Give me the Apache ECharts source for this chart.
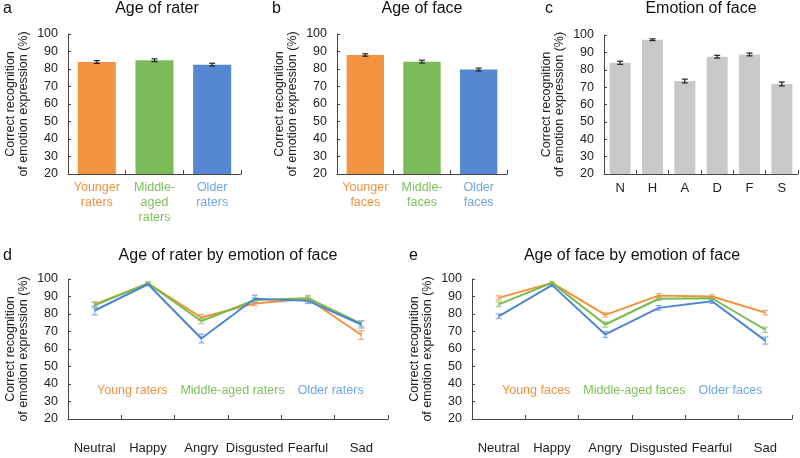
<!DOCTYPE html>
<html><head><meta charset="utf-8">
<script src="https://cdn.jsdelivr.net/npm/echarts@6/dist/echarts.min.js"></script>
<style>html,body{margin:0;padding:0;background:#fff}#c{width:800px;height:458px}</style>
</head><body><div id="c"></div>
<script>
// ---- Data ----
const raterCats = ['Younger\nraters', 'Middle-\naged\nraters', 'Older\nraters'];
const raterMeans = [84, 85, 82.5];
const raterErr = [0.8, 0.8, 0.8];

const faceCats = ['Younger\nfaces', 'Middle-\nfaces', 'Older\nfaces'];
const faceMeans = [88, 84.2, 79.7];
const faceErr = [0.7, 0.8, 0.8];

const emoShort = ['N', 'H', 'A', 'D', 'F', 'S'];
const emoMeans = [84, 97.3, 73.5, 87.5, 88.8, 71.8];
const emoErr = [0.9, 0.5, 1.1, 0.8, 0.8, 1.1];

const emoLong = ['Neutral', 'Happy', 'Angry', 'Disgusted', 'Fearful', 'Sad'];

const raterNames = ['Young raters', 'Middle-aged raters', 'Older raters'];
const youngRaters = [85.5, 97.5, 78, 86, 88.7, 68];
const youngRatersErr = [1.5, 0.8, 1.8, 1.3, 1.8, 2.5];
const middleRaters = [85, 97.5, 76, 88, 89, 74.5];
const middleRatersErr = [1.5, 0.8, 1.5, 1.3, 1.3, 1.5];
const olderRaters = [82, 97, 66, 88.7, 87.5, 74];
const olderRatersErr = [2.5, 0.8, 2.5, 2, 1.5, 2];

const faceNames = ['Young faces', 'Middle-aged faces', 'Older faces'];
const youngFaces = [89.2, 97.8, 79.5, 90.5, 90, 80.8];
const youngFacesErr = [1.2, 0.6, 1.2, 1.2, 1, 1.3];
const middleFaces = [85.5, 97.8, 74, 88.7, 89, 71];
const middleFacesErr = [1.3, 0.6, 1.5, 1, 1, 1.5];
const olderFaces = [78.7, 96.5, 68.3, 83.5, 87.3, 64.8];
const olderFacesErr = [1.3, 0.8, 1.7, 1.3, 1.2, 2];

const yTicks = { min: 20, max: 100, interval: 10 };
const yName = 'Correct recognition\nof emotion expression (%)';

// ---- Styles ----
const FONT = '"Liberation Sans", Arial, Helvetica, sans-serif';
const barColors = ['#F39442', '#7CBB5A', '#5588D0'];
const labelColors = ['#F3913E', '#7DC05A', '#6BA7E3'];
const lineColors = ['#F4913C', '#77BB4A', '#4D85D6'];
const errColors = ['#F6AA70', '#A0CF84', '#82ACE8'];
const AX = '#444';

function errData(means, errs) { return means.map((m, i) => [i, m - errs[i], m + errs[i]]); }
function errRender(capW, color) {
  return function (params, api) {
    const x = api.value(0), lo = api.value(1), hi = api.value(2);
    const p1 = api.coord([x, lo]), p2 = api.coord([x, hi]);
    const cx = p1[0];
    const style = { stroke: color, lineWidth: 1.2 };
    return { type: 'group', children: [
      { type: 'line', shape: { x1: cx, y1: p1[1], x2: cx, y2: p2[1] }, style },
      { type: 'line', shape: { x1: cx - capW / 2, y1: p1[1], x2: cx + capW / 2, y2: p1[1] }, style },
      { type: 'line', shape: { x1: cx - capW / 2, y1: p2[1], x2: cx + capW / 2, y2: p2[1] }, style }
    ] };
  };
}

const grids = [
  { left: 68, top: 34, width: 173, height: 140 },
  { left: 337, top: 34, width: 170, height: 140 },
  { left: 604, top: 35, width: 194, height: 139 },
  { left: 68, top: 279, width: 320, height: 140 },
  { left: 472, top: 279, width: 320, height: 140 }
];

function yAxisFor(g) {
  return {
    type: 'value', gridIndex: g, min: yTicks.min, max: yTicks.max, interval: yTicks.interval,
    axisLine: { show: true, lineStyle: { color: AX, width: 1 } },
    axisTick: { show: true, inside: true, length: 3, lineStyle: { color: AX } },
    splitLine: { show: false },
    axisLabel: { color: '#222', fontSize: 12.5, margin: 10, fontFamily: FONT },
    name: yName, nameLocation: 'middle', nameRotate: 90, nameGap: 38,
    nameTextStyle: { fontSize: 12.5, lineHeight: 13, color: '#222', fontFamily: FONT }
  };
}
function xAxisFor(g, cats, opts) {
  return Object.assign({
    type: 'category', gridIndex: g, data: cats,
    axisLine: { show: true, lineStyle: { color: AX, width: 1 } },
    axisTick: { show: true, inside: true, length: 4, alignWithLabel: false, lineStyle: { color: AX } },
    axisLabel: { color: '#222', fontSize: 13, margin: 6, fontFamily: FONT, interval: 0 }
  }, opts || {});
}

const titles = [
  { text: 'a', left: 3, top: 1 }, { text: 'Age of rater', left: 157, top: 1, textAlign: 'center' },
  { text: 'b', left: 272, top: 1 }, { text: 'Age of face', left: 422, top: 1, textAlign: 'center' },
  { text: 'c', left: 545, top: 1 }, { text: 'Emotion of face', left: 701, top: 1, textAlign: 'center' },
  { text: 'd', left: 3, top: 248 }, { text: 'Age of rater by emotion of face', left: 228, top: 248, textAlign: 'center' },
  { text: 'e', left: 409, top: 248 }, { text: 'Age of face by emotion of face', left: 632, top: 248, textAlign: 'center' }
].map(t => Object.assign({ padding: 0, textStyle: { fontSize: 16, fontWeight: 'normal', color: '#111', fontFamily: FONT } }, t));

const series = [];
// a
series.push({ type: 'bar', xAxisIndex: 0, yAxisIndex: 0, barCategoryGap: '34%',
  data: raterMeans.map((v, i) => ({ value: v, itemStyle: { color: barColors[i] } })) });
series.push({ type: 'custom', xAxisIndex: 0, yAxisIndex: 0, renderItem: errRender(6, '#222'), data: errData(raterMeans, raterErr), encode: { x: 0, y: [1, 2] }, z: 5 });
// b
series.push({ type: 'bar', xAxisIndex: 1, yAxisIndex: 1, barCategoryGap: '34%',
  data: faceMeans.map((v, i) => ({ value: v, itemStyle: { color: barColors[i] } })) });
series.push({ type: 'custom', xAxisIndex: 1, yAxisIndex: 1, renderItem: errRender(6, '#222'), data: errData(faceMeans, faceErr), encode: { x: 0, y: [1, 2] }, z: 5 });
// c
series.push({ type: 'bar', xAxisIndex: 2, yAxisIndex: 2, barCategoryGap: '35%', itemStyle: { color: '#C9C9C9' }, data: emoMeans });
series.push({ type: 'custom', xAxisIndex: 2, yAxisIndex: 2, renderItem: errRender(6, '#222'), data: errData(emoMeans, emoErr), encode: { x: 0, y: [1, 2] }, z: 5 });
// d
[[youngRaters, youngRatersErr], [middleRaters, middleRatersErr], [olderRaters, olderRatersErr]].forEach((s, k) => {
  series.push({ type: 'custom', xAxisIndex: 3, yAxisIndex: 3, renderItem: errRender(6, errColors[k]), data: errData(s[0], s[1]), encode: { x: 0, y: [1, 2] }, z: 2 });
  series.push({ type: 'line', name: raterNames[k], xAxisIndex: 3, yAxisIndex: 3, data: s[0], symbol: 'none', lineStyle: { width: 2, color: lineColors[k] }, itemStyle: { color: lineColors[k] }, z: 3 });
});
// e
[[youngFaces, youngFacesErr], [middleFaces, middleFacesErr], [olderFaces, olderFacesErr]].forEach((s, k) => {
  series.push({ type: 'custom', xAxisIndex: 4, yAxisIndex: 4, renderItem: errRender(6, errColors[k]), data: errData(s[0], s[1]), encode: { x: 0, y: [1, 2] }, z: 2 });
  series.push({ type: 'line', name: faceNames[k], xAxisIndex: 4, yAxisIndex: 4, data: s[0], symbol: 'none', lineStyle: { width: 2, color: lineColors[k] }, itemStyle: { color: lineColors[k] }, z: 3 });
});

function legendFor(names, left) {
  return { data: names.map((n, i) => ({ name: n, textStyle: { color: labelColors[i] } })),
    left: left, top: 384, icon: 'none', itemWidth: 0, itemHeight: 10, itemGap: 8, padding: 0, selectedMode: false,
    textStyle: { fontSize: 12.5, fontFamily: FONT } };
}

const option = {
  animation: false,
  textStyle: { fontFamily: FONT },
  title: titles,
  grid: grids,
  legend: [legendFor(raterNames, 92), legendFor(faceNames, 497)],
  xAxis: [
    xAxisFor(0, raterCats, { axisLabel: { fontSize: 12.5, lineHeight: 15, margin: 6, interval: 0, fontFamily: FONT, color: (v, i) => labelColors[i] } }),
    xAxisFor(1, faceCats, { axisLabel: { fontSize: 12.5, lineHeight: 15, margin: 6, interval: 0, fontFamily: FONT, color: (v, i) => labelColors[i] } }),
    xAxisFor(2, emoShort, { axisLabel: { fontSize: 13, margin: 8, interval: 0, color: '#222', fontFamily: FONT } }),
    xAxisFor(3, emoLong, { axisLabel: { fontSize: 13, margin: 23, interval: 0, color: '#222', fontFamily: FONT } }),
    xAxisFor(4, emoLong, { axisLabel: { fontSize: 13, margin: 23, interval: 0, color: '#222', fontFamily: FONT } })
  ],
  yAxis: [yAxisFor(0), yAxisFor(1), yAxisFor(2), yAxisFor(3), yAxisFor(4)],
  series: series
};
const chart = echarts.init(document.getElementById('c'), null, { renderer: 'canvas' });
chart.setOption(option);
</script></body></html>
